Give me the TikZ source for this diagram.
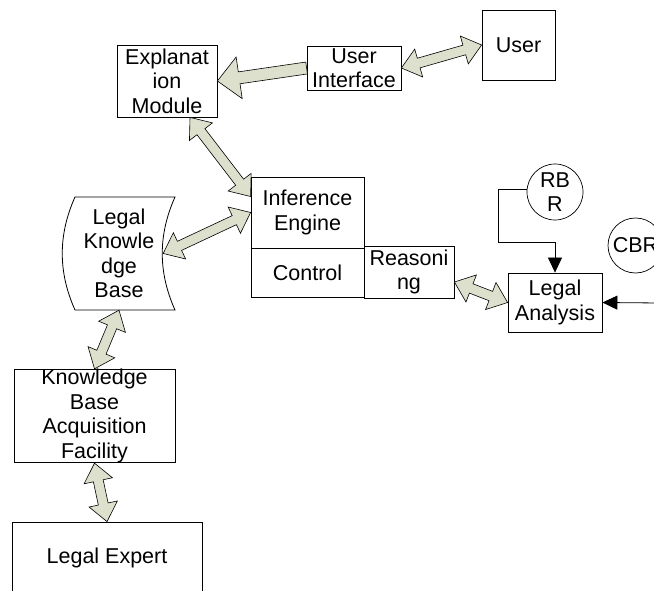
\documentclass[tikz,border=0pt]{standalone}
\usepackage{fontspec}
\setmainfont{Liberation Sans}
\usepackage{tikz}
\usetikzlibrary{calc}
\usetikzlibrary{arrows.meta}
\definecolor{arrowfill}{RGB}{221,224,204}
\tikzset{box/.style={draw, line width=0.8pt, inner sep=0pt, align=center},
 disc/.style={circle, draw, line width=0.7pt, inner sep=0pt, align=center},
 fat/.style={draw, line width=0.6pt, fill=arrowfill, line join=miter},
 link/.style={draw, line width=0.8pt, -{Triangle[length=15pt,width=14pt]}},
 }
% block arrow with heads at both ends
\newcommand{\dblarrow}[2]{%
  \coordinate (ha) at ($(#1)!18pt!(#2)$);
  \coordinate (hb) at ($(#2)!18pt!(#1)$);
  \draw[fat] (#1) -- ($(ha)!14.5pt!90:(#2)$) -- ($(ha)!5pt!90:(#2)$)
    -- ($(hb)!5pt!-90:(#1)$) -- ($(hb)!14.5pt!-90:(#1)$) -- (#2)
    -- ($(hb)!14.5pt!90:(#1)$) -- ($(hb)!5pt!90:(#1)$)
    -- ($(ha)!5pt!-90:(#2)$) -- ($(ha)!14.5pt!-90:(#2)$) -- cycle;}
% block arrow with one head, at #2
\newcommand{\sglarrow}[2]{%
  \coordinate (hb) at ($(#2)!22pt!(#1)$);
  \draw[fat] ($(#1)!6pt!-90:(#2)$) -- ($(hb)!6pt!90:(#1)$)
    -- ($(hb)!21pt!90:(#1)$) -- (#2) -- ($(hb)!21pt!-90:(#1)$)
    -- ($(hb)!6pt!-90:(#1)$) -- ($(#1)!6pt!90:(#2)$) -- cycle;}

\begin{document}
\begin{tikzpicture}[x=1pt, y=-1pt, font=\fontsize{21.5}{24.5}\selectfont]
        \useasboundingbox (0,0) rectangle (654,591);
        \clip (0,0) rectangle (654,591);

        \node[box, minimum width=100pt, minimum height=72pt] (em) at (167,81) {Explanat\\ion\\Module};
        \node[box, minimum width=94pt, minimum height=44pt] (ui) at (354,68) {User\\Interface};
        \node[box, minimum width=73pt, minimum height=70pt] (user) at (518.5,45) {User};
        \node[box, minimum width=113pt, minimum height=71pt] (ie) at (307.5,212.5) {Inference\\Engine};
        \node[box, minimum width=113pt, minimum height=49pt, anchor=north] (ctl) at (ie.south) {Control};
        \node[box, minimum width=90pt, minimum height=52pt] (rs) at (409,272) {Reasoni\\ng};
        \node[box, minimum width=94pt, minimum height=59pt] (la) at (555,302.5) {Legal\\Analysis};
        \node[disc, minimum size=56pt] (rbr) at (555,192) {RB\\R};
        \node[disc, minimum size=55pt] (cbr) at (635.5,245.5) {CBR};
        \node[box, minimum width=161pt, minimum height=92pt] (kb) at (94.5,416) {Knowledge\\Base\\Acquisition\\Facility};
        \node[box, minimum width=190pt, minimum height=72pt] (le) at (107,558) {Legal Expert};

        % stored data shape
        \draw[line width=0.8pt] (75,197) -- (175,197) .. controls (158,235) and (158,272) .. (175,310)
            -- (75,310) .. controls (58,272) and (58,235) .. (75,197) -- cycle;
        \node[inner sep=0pt, minimum width=88pt, minimum height=113pt, align=center] (lkb) at (119,253.5) {Legal\\Knowle\\dge\\Base};

        \coordinate (emlow) at ([xshift=23pt]em.south);
        \coordinate (ietop) at ([yshift=16pt]ie.west);
        \coordinate (rsin) at ([yshift=-10pt]rs.east);
        \coordinate (cbrout) at (660,303);

        \sglarrow{ui.west}{em.east}
        \dblarrow{ui.east}{user.west}
        \dblarrow{emlow}{ietop}
        \dblarrow{lkb.east}{ie.west}
        \dblarrow{rsin}{la.west}
        \dblarrow{kb.north}{lkb.south}
        \dblarrow{kb.south}{le.north}

        \draw[link] (rbr.174) -| (498,242) -| (la.north);
        \draw[link] (cbrout) -- (la.east);
    \end{tikzpicture}
\end{document}
